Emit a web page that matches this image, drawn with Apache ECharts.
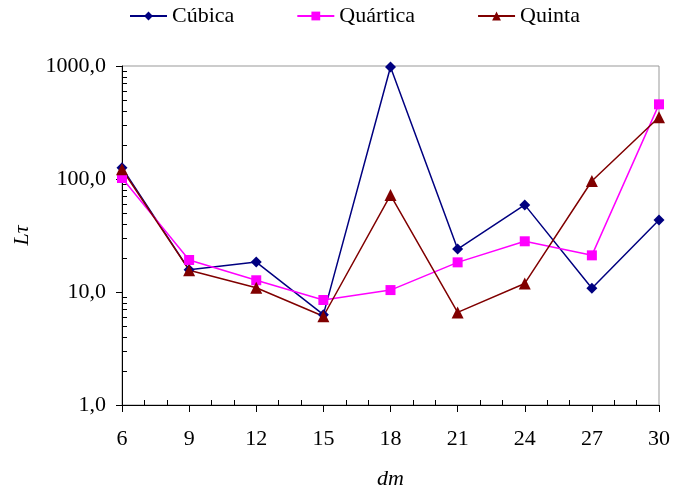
<!DOCTYPE html>
<html>
<head>
<meta charset="utf-8">
<script src="https://cdn.jsdelivr.net/npm/echarts@6/dist/echarts.min.js"></script>
<style>html,body{margin:0;padding:0;background:#fff}#c{width:673px;height:495px}</style>
</head>
<body>
<div id="c"></div>
<script>
const categories = ['6','9','12','15','18','21','24','27','30'];
const cubica   = [126, 15.7, 18.4, 6.3, 980, 24, 59, 10.8, 43.4];
const quartica = [102, 19.2, 12.7, 8.5, 10.4, 18.3, 28.1, 21.1, 458];
const quinta   = [122, 15.6, 10.9, 6.1, 72, 6.6, 11.9, 96, 352];
const seriesNames = ['Cúbica', 'Quártica', 'Quinta'];
const yMinorTicks = [];
for (let n = 0; n < 3; n++) for (let k = 2; k <= 9; k++) yMinorTicks.push(n + Math.log10(k));
const xMinorTicks = [];
for (let v = 6; v <= 30; v++) if (v % 3 !== 0) xMinorTicks.push(v);

const font = '"Liberation Serif","Times New Roman",serif';
const fs = 22;
const chart = echarts.init(document.getElementById('c'), null, {renderer: 'canvas'});
chart.setOption({
  animation: false,
  textStyle: {fontFamily: font},
  legend: {
    left: 124, top: 0,
    itemWidth: 37, itemHeight: 11, itemGap: 62,
    textStyle: {fontFamily: font, fontSize: fs, color: '#000'},
    data: seriesNames
  },
  grid: {left: 122, right: 13, top: 66, bottom: 90, show: true, borderColor: '#999', borderWidth: 1},
  xAxis: [{
    type: 'category', data: categories, boundaryGap: false,
    axisLine: {lineStyle: {color: '#000', width: 1}},
    axisTick: {inside: false, length: 7, lineStyle: {color: '#000'}},
    axisLabel: {fontFamily: font, fontSize: fs, color: '#000', margin: 23},
    name: 'dm', nameLocation: 'middle', nameGap: 63,
    nameTextStyle: {fontFamily: font, fontSize: fs, fontStyle: 'italic', color: '#000'}
  }, {
    type: 'value', min: 6, max: 30, position: 'bottom',
    axisLine: {show: false},
    axisLabel: {show: false},
    splitLine: {show: false},
    axisTick: {inside: true, length: 5, customValues: xMinorTicks, lineStyle: {color: '#000'}}
  }],
  yAxis: [{
    type: 'log', logBase: 10, min: 1, max: 1000,
    axisLine: {show: true, lineStyle: {color: '#000', width: 1}},
    axisTick: {show: true, inside: false, length: 6, lineStyle: {color: '#000'}},
    splitLine: {show: false},
    axisLabel: {fontFamily: font, fontSize: fs, color: '#000', margin: 16,
      formatter: v => v.toFixed(1).replace('.', ',')},
    name: 'Lτ', nameLocation: 'middle', nameGap: 89, nameRotate: 90,
    nameTextStyle: {fontFamily: font, fontSize: fs, fontStyle: 'italic', color: '#000'}
  }, {
    type: 'value', min: 0, max: 3, position: 'left',
    axisLine: {show: false},
    axisLabel: {show: false},
    splitLine: {show: false},
    axisTick: {show: true, inside: true, length: 5, customValues: yMinorTicks, lineStyle: {color: '#000'}}
  }],
  series: [{
    name: seriesNames[0], type: 'line', data: cubica,
    symbol: 'diamond', symbolSize: 11,
    itemStyle: {color: '#000080'}, lineStyle: {color: '#000080', width: 1.5}
  }, {
    name: seriesNames[1], type: 'line', data: quartica,
    symbol: 'rect', symbolSize: 10,
    itemStyle: {color: '#FF00FF'}, lineStyle: {color: '#FF00FF', width: 1.5}
  }, {
    name: seriesNames[2], type: 'line', data: quinta,
    symbol: 'triangle', symbolSize: 12,
    itemStyle: {color: '#800000'}, lineStyle: {color: '#800000', width: 1.5}
  }]
});
</script>
</body>
</html>
